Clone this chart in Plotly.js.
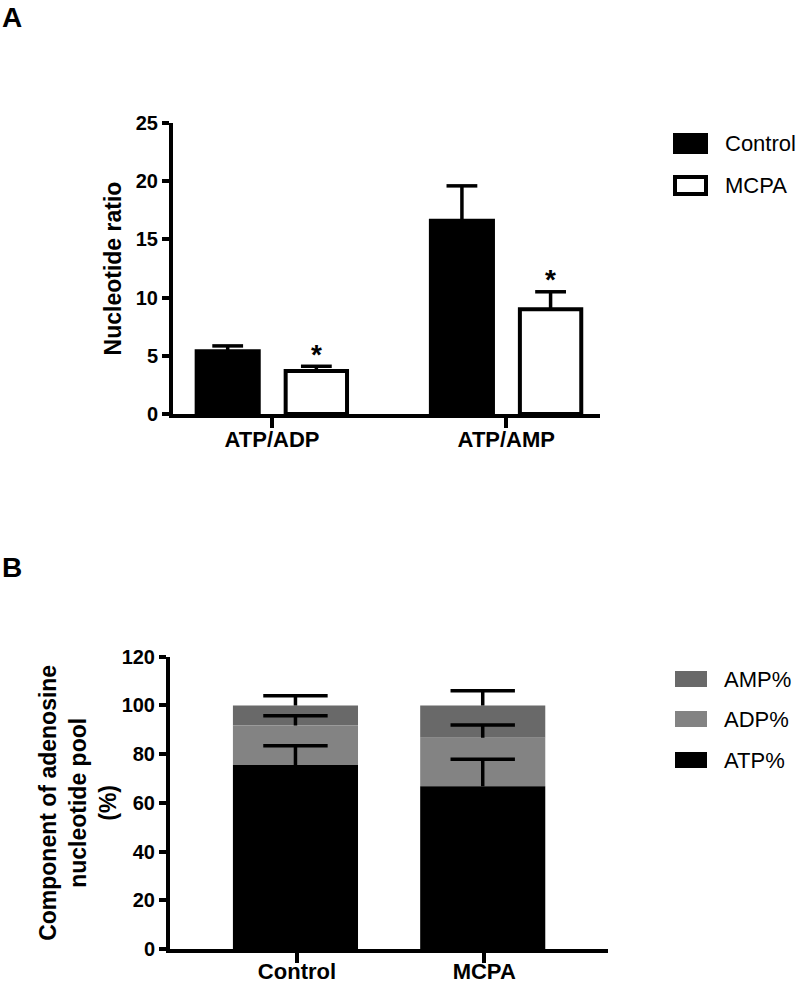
<!DOCTYPE html>
<html>
<head>
<meta charset="utf-8">
<script src="https://cdn.plot.ly/plotly-3.0.1.min.js"></script>
<style>
  html, body { margin: 0; padding: 0; background: #ffffff; }
  #chart { width: 800px; height: 984px; }
</style>
</head>
<body>
<div id="chart"></div>
<script>
// ---------- Data ----------
const categoriesA = ['ATP/ADP', 'ATP/AMP'];
const seriesA = ['Control', 'MCPA'];
const controlRatio = [5.4, 16.6];
const controlRatioErr = [0.45, 3.0];
const mcpaRatio = [3.7, 9.0];
const mcpaRatioErr = [0.4, 1.5];
const mcpaSig = ['*', '*'];
const yTicksA = [0, 5, 10, 15, 20, 25];

const groupsB = ['Control', 'MCPA'];
const seriesB = ['AMP%', 'ADP%', 'ATP%'];
const atpPct = [75.5, 66.8];
const adpPct = [16.3, 19.9];
const ampPct = [8.2, 13.3];
const atpErr = [7.9, 11.1];
const adpErr = [4.0, 5.3];
const ampErr = [4.0, 6.0];
const yTicksB = [0, 20, 40, 60, 80, 100, 120];

// ---------- Helpers ----------
const W = 800, H = 984;
const px = v => v / W;
const py = v => 1 - v / H;
const FONT = 'Arial, "Liberation Sans", sans-serif';
const zeros = a => a.map(() => 0);
const idxA = categoriesA.map((_, i) => i);
const idxB = groupsB.map((_, i) => i);

// bar geometry (style, in category units)
const barA = [{ width: 0.265, offset: -0.322 }, { width: 0.262, offset: 0.058 }];
const barB = { width: 0.668, offset: -0.342 };

const traces = [];

// error bar stems (no caps) + caps drawn as horizontal line markers at the top only
function stem(arr) {
  return { type: 'data', symmetric: false, array: arr, arrayminus: zeros(arr),
           color: '#000000', thickness: 3.5, width: 0 };
}
function caps(xIdx, geom, vals, errs, base, xa, ya, size) {
  return {
    type: 'scatter', mode: 'markers', xaxis: xa, yaxis: ya,
    x: xIdx.map(i => i + geom.offset + geom.width / 2),
    y: vals.map((v, i) => (base ? base[i] : 0) + v + errs[i]),
    marker: { symbol: 'line-ew', size: size, color: '#000000', line: { color: '#000000', width: 3.5 } },
    showlegend: false, hoverinfo: 'skip', cliponaxis: false
  };
}

// ---------- Panel A ----------
const aVals = [controlRatio, mcpaRatio];
const aErrs = [controlRatioErr, mcpaRatioErr];
const aFill = ['#000000', '#ffffff'];
seriesA.forEach((name, s) => {
  traces.push({
    type: 'bar', name: name, x: idxA, y: aVals[s], xaxis: 'x', yaxis: 'y',
    width: barA[s].width, offset: barA[s].offset,
    marker: { color: aFill[s], line: { color: '#000000', width: 4 } },
    error_y: stem(aErrs[s]), showlegend: false, hoverinfo: 'skip'
  });
});

// ---------- Panel B (stacked via base; AMP drawn first so lower error bars stay on top) ----------
const baseAmp = atpPct.map((v, i) => v + adpPct[i]);
const bVals = [ampPct, adpPct, atpPct];
const bErrs = [ampErr, adpErr, atpErr];
const bBase = [baseAmp, atpPct, zeros(atpPct)];
const bFill = ['#696969', '#838383', '#000000'];
seriesB.forEach((name, s) => {
  traces.push({
    type: 'bar', name: name, x: idxB, y: bVals[s], base: bBase[s], xaxis: 'x2', yaxis: 'y2',
    width: barB.width, offset: barB.offset,
    marker: { color: bFill[s], line: { width: 0 } },
    error_y: stem(bErrs[s]), showlegend: false, hoverinfo: 'skip'
  });
});

// caps
seriesA.forEach((name, s) => traces.push(caps(idxA, barA[s], aVals[s], aErrs[s], null, 'x', 'y', 22)));
seriesB.forEach((name, s) => traces.push(caps(idxB, barB, bVals[s], bErrs[s], bBase[s], 'x2', 'y2', 46)));

// ---------- Axes ----------
const tickFont = { family: FONT, size: 20, color: '#000000', weight: 'bold' };
const xTickFont = { family: FONT, size: 22, color: '#000000', weight: 'bold' };
const titleFont = { family: FONT, size: 23, color: '#000000', weight: 'bold' };
const axisCommon = {
  showline: true, linecolor: '#000000', linewidth: 4,
  showgrid: false, zeroline: false, ticks: 'outside',
  tickcolor: '#000000', tickwidth: 4, ticklen: 9, fixedrange: true
};

const layout = {
  width: W, height: H, autosize: false,
  margin: { l: 0, r: 0, t: 0, b: 0, pad: 0 },
  paper_bgcolor: '#ffffff', plot_bgcolor: 'rgba(0,0,0,0)',
  barmode: 'group',
  showlegend: false,
  font: { family: FONT, color: '#000000' },
  xaxis: Object.assign({}, axisCommon, {
    domain: [px(173), px(600)], range: [-0.423, 1.40], type: 'linear',
    tickvals: idxA, ticktext: categoriesA,
    anchor: 'y', tickfont: xTickFont, ticklen: 10, ticklabelstandoff: -7
  }),
  yaxis: Object.assign({}, axisCommon, {
    domain: [py(414), py(123)], range: [0, 25], anchor: 'x',
    tickvals: yTicksA, ticktext: yTicksA.map(String), tickfont: tickFont, ticklen: 7,
    title: { text: 'Nucleotide ratio', font: titleFont, standoff: 9 }
  }),
  xaxis2: Object.assign({}, axisCommon, {
    domain: [px(170), px(608)], range: [-0.678, 1.661], type: 'linear',
    tickvals: idxB, ticktext: groupsB,
    anchor: 'y2', tickfont: xTickFont, ticklen: 10, ticklabelstandoff: -10
  }),
  yaxis2: Object.assign({}, axisCommon, {
    domain: [py(949), py(656.7)], range: [0, 120], anchor: 'x2',
    tickvals: yTicksB, ticktext: yTicksB.map(String), tickfont: tickFont, ticklen: 7,
    title: { text: 'Component of adenosine<br>nucleotide pool<br>(%)', font: titleFont, standoff: 0 }
  }),
  shapes: [],
  annotations: []
};

// Significance stars above MCPA bars (panel A)
mcpaSig.forEach((s, i) => {
  layout.annotations.push({
    xref: 'x', yref: 'y', x: idxA[i] + barA[1].offset + barA[1].width / 2,
    y: mcpaRatio[i] + mcpaRatioErr[i],
    text: s, showarrow: false, xanchor: 'center', yanchor: 'middle', yshift: 12,
    font: { family: FONT, size: 28, color: '#000000', weight: 'bold' }
  });
});

// Panel letters
[['A', 0], ['B', 550]].forEach(([t, top]) => {
  layout.annotations.push({
    xref: 'paper', yref: 'paper', x: px(0), y: py(top), xanchor: 'left', yanchor: 'top',
    text: t, showarrow: false, font: { family: FONT, size: 28, color: '#000000', weight: 'bold' }
  });
});

// Legend A (manual keys)
const legA = [
  { name: seriesA[0], fill: '#000000', cy: 143.5 },
  { name: seriesA[1], fill: '#ffffff', cy: 185.5 }
];
legA.forEach(item => {
  layout.shapes.push({
    type: 'rect', xref: 'paper', yref: 'paper',
    x0: px(675), x1: px(706), y0: py(item.cy - 8.5), y1: py(item.cy + 8.5),
    fillcolor: item.fill, line: { color: '#000000', width: 4 }
  });
  layout.annotations.push({
    xref: 'paper', yref: 'paper', x: px(723), y: py(item.cy), xanchor: 'left', yanchor: 'middle',
    text: item.name, showarrow: false, font: { family: FONT, size: 22, color: '#000000' }
  });
});

// Legend B (manual keys)
const legB = [
  { name: seriesB[0], fill: '#696969', cy: 679 },
  { name: seriesB[1], fill: '#838383', cy: 719 },
  { name: seriesB[2], fill: '#000000', cy: 760 }
];
legB.forEach(item => {
  layout.shapes.push({
    type: 'rect', xref: 'paper', yref: 'paper',
    x0: px(675), x1: px(707), y0: py(item.cy - 8), y1: py(item.cy + 8),
    fillcolor: item.fill, line: { width: 0 }
  });
  layout.annotations.push({
    xref: 'paper', yref: 'paper', x: px(722), y: py(item.cy), xanchor: 'left', yanchor: 'middle',
    text: item.name, showarrow: false, font: { family: FONT, size: 22, color: '#000000' }
  });
});

Plotly.newPlot('chart', traces, layout, { staticPlot: true, displayModeBar: false });
</script>
</body>
</html>
